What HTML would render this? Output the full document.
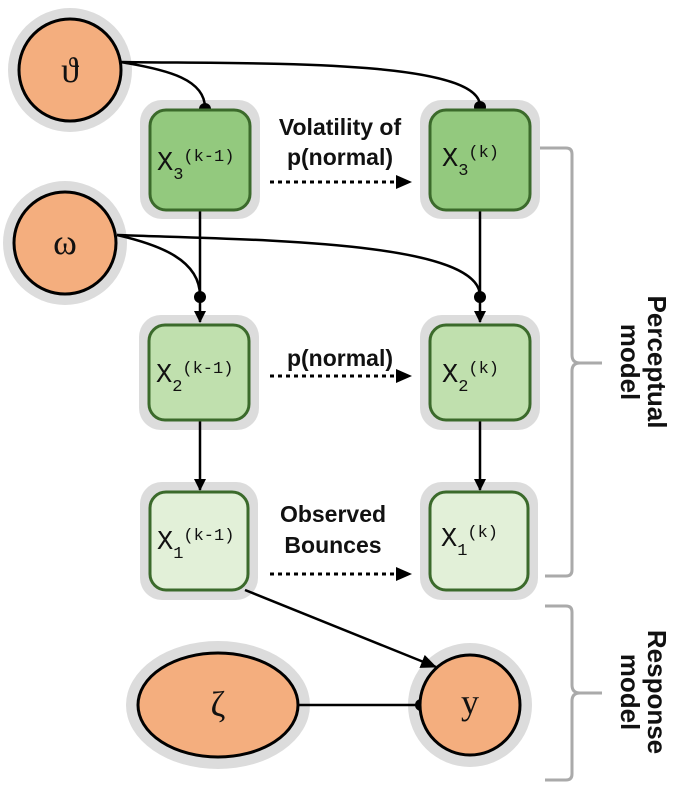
<!DOCTYPE html>
<html><head><style>
html,body{margin:0;padding:0;background:#fff;}
svg{display:block;}
.m{font-family:"Liberation Mono",monospace;font-size:27px;fill:#111;}
.s{font-family:"Liberation Mono",monospace;font-size:17px;fill:#111;}
.b{font-family:"Liberation Sans",sans-serif;font-weight:bold;font-size:23px;fill:#111;}
.g{font-family:"Liberation Serif",serif;font-size:36px;fill:#111;}
</style></head><body>
<svg width="685" height="799" viewBox="0 0 685 799" xmlns="http://www.w3.org/2000/svg">
<defs>
<marker id="ar" markerWidth="12" markerHeight="12" refX="11" refY="6" orient="auto" markerUnits="userSpaceOnUse"><path d="M0,0 L12,6 L0,12 z" fill="#000"/></marker>
<marker id="ar2" markerWidth="16" markerHeight="14" refX="15" refY="7" orient="auto" markerUnits="userSpaceOnUse"><path d="M0,0 L16,7 L0,14 z" fill="#000"/></marker>
</defs>
<g fill="#dcdcdc">
<circle cx="70" cy="70" r="62"/>
<circle cx="65" cy="243" r="62"/>
<rect x="140" y="100" width="120" height="119" rx="22"/>
<rect x="420" y="100" width="120" height="119" rx="22"/>
<rect x="139" y="315" width="120" height="115" rx="22"/>
<rect x="420" y="315" width="120" height="115" rx="22"/>
<rect x="140" y="482" width="118" height="118" rx="22"/>
<rect x="420" y="482" width="118" height="118" rx="22"/>
<ellipse cx="218" cy="705" rx="92" ry="64"/>
<circle cx="470" cy="705" r="62"/>
</g>
<g stroke="#000" stroke-width="2.5" fill="none">
<path d="M120,62 C170,70 205,80 205,108"/>
<path d="M120,62 C250,64 480,58 480,106"/>
<path d="M117,235 C160,245 200,260 200,296"/>
<path d="M117,235 C250,240 480,240 480,296"/>
<line x1="200" y1="210" x2="200" y2="322" marker-end="url(#ar)"/>
<line x1="480" y1="210" x2="480" y2="322" marker-end="url(#ar)"/>
<line x1="200" y1="420" x2="200" y2="490" marker-end="url(#ar)"/>
<line x1="480" y1="420" x2="480" y2="490" marker-end="url(#ar)"/>
<line x1="245" y1="590" x2="436" y2="667" marker-end="url(#ar2)"/>
<line x1="298" y1="705" x2="422" y2="705"/>
<g stroke-dasharray="4,4" stroke-width="3">
<line x1="270" y1="182" x2="402" y2="182"/>
<line x1="270" y1="376" x2="402" y2="376"/>
<line x1="270" y1="574" x2="402" y2="574"/>
</g>
</g>
<g fill="#000">
<path d="M396,175 L412,182 L396,189z"/>
<path d="M396,369 L412,376 L396,383z"/>
<path d="M396,567 L412,574 L396,581z"/>
<circle cx="205" cy="109" r="6"/>
<circle cx="480" cy="107" r="6"/>
<circle cx="200" cy="297" r="6"/>
<circle cx="480" cy="297" r="6"/>
<circle cx="421" cy="705" r="6"/>
</g>
<g stroke="#000" stroke-width="3" fill="#f4ae7e">
<circle cx="70" cy="70" r="51"/>
<circle cx="65" cy="243" r="51"/>
<ellipse cx="218" cy="705" rx="80" ry="52"/>
<circle cx="470" cy="705" r="50"/>
</g>
<g stroke="#3b6a2b" stroke-width="3">
<rect x="150" y="110" width="100" height="100" rx="16" fill="#93c97e"/>
<rect x="430" y="110" width="100" height="100" rx="16" fill="#93c97e"/>
<rect x="149" y="325" width="100" height="95" rx="16" fill="#c0e0ae"/>
<rect x="430" y="325" width="100" height="95" rx="16" fill="#c0e0ae"/>
<rect x="150" y="492" width="98" height="98" rx="16" fill="#e2f0d8"/>
<rect x="430" y="492" width="98" height="98" rx="16" fill="#e2f0d8"/>
</g>
<g text-anchor="middle">
<text class="g" x="70" y="82">ϑ</text>
<text class="g" x="65" y="254">ω</text>
<text class="g" x="218" y="716">ζ</text>
<text class="g" x="470" y="714">y</text>
</g>
<text class="m" x="157" y="170">X<tspan class="s" dy="9">3</tspan><tspan class="s" dy="-18">(k-1)</tspan></text>
<text class="m" x="442" y="166">X<tspan class="s" dy="9">3</tspan><tspan class="s" dy="-18">(k)</tspan></text>
<text class="m" x="156" y="382">X<tspan class="s" dy="9">2</tspan><tspan class="s" dy="-18">(k-1)</tspan></text>
<text class="m" x="442" y="382">X<tspan class="s" dy="9">2</tspan><tspan class="s" dy="-18">(k)</tspan></text>
<text class="m" x="157" y="549">X<tspan class="s" dy="9">1</tspan><tspan class="s" dy="-18">(k-1)</tspan></text>
<text class="m" x="441" y="546">X<tspan class="s" dy="9">1</tspan><tspan class="s" dy="-18">(k)</tspan></text>
<g text-anchor="middle">
<text class="b" x="340" y="135">Volatility of</text>
<text class="b" x="340" y="165">p(normal)</text>
<text class="b" x="340" y="366">p(normal)</text>
<text class="b" x="333" y="522">Observed</text>
<text class="b" x="333" y="553">Bounces</text>
</g>
<g stroke="#aaa" stroke-width="3" fill="none">
<path d="M540,148 L566,148 Q572,148 572,154 L572,355 Q572,363 580,363 L602,363 M580,363 Q572,363 572,371 L572,570 Q572,576 566,576 L545,576"/>
<path d="M545,606 L566,606 Q572,606 572,612 L572,685 Q572,693 580,693 L602,693 M580,693 Q572,693 572,701 L572,774 Q572,780 566,780 L545,780"/>
</g>
<g font-family="Liberation Sans,sans-serif" font-weight="bold" font-size="26" fill="#111" text-anchor="middle">
<text transform="translate(648,362) rotate(90)">Perceptual</text>
<text transform="translate(621,362) rotate(90)">model</text>
<text transform="translate(648,692) rotate(90)">Response</text>
<text transform="translate(621,692) rotate(90)">model</text>
</g>
</svg>
</body></html>
